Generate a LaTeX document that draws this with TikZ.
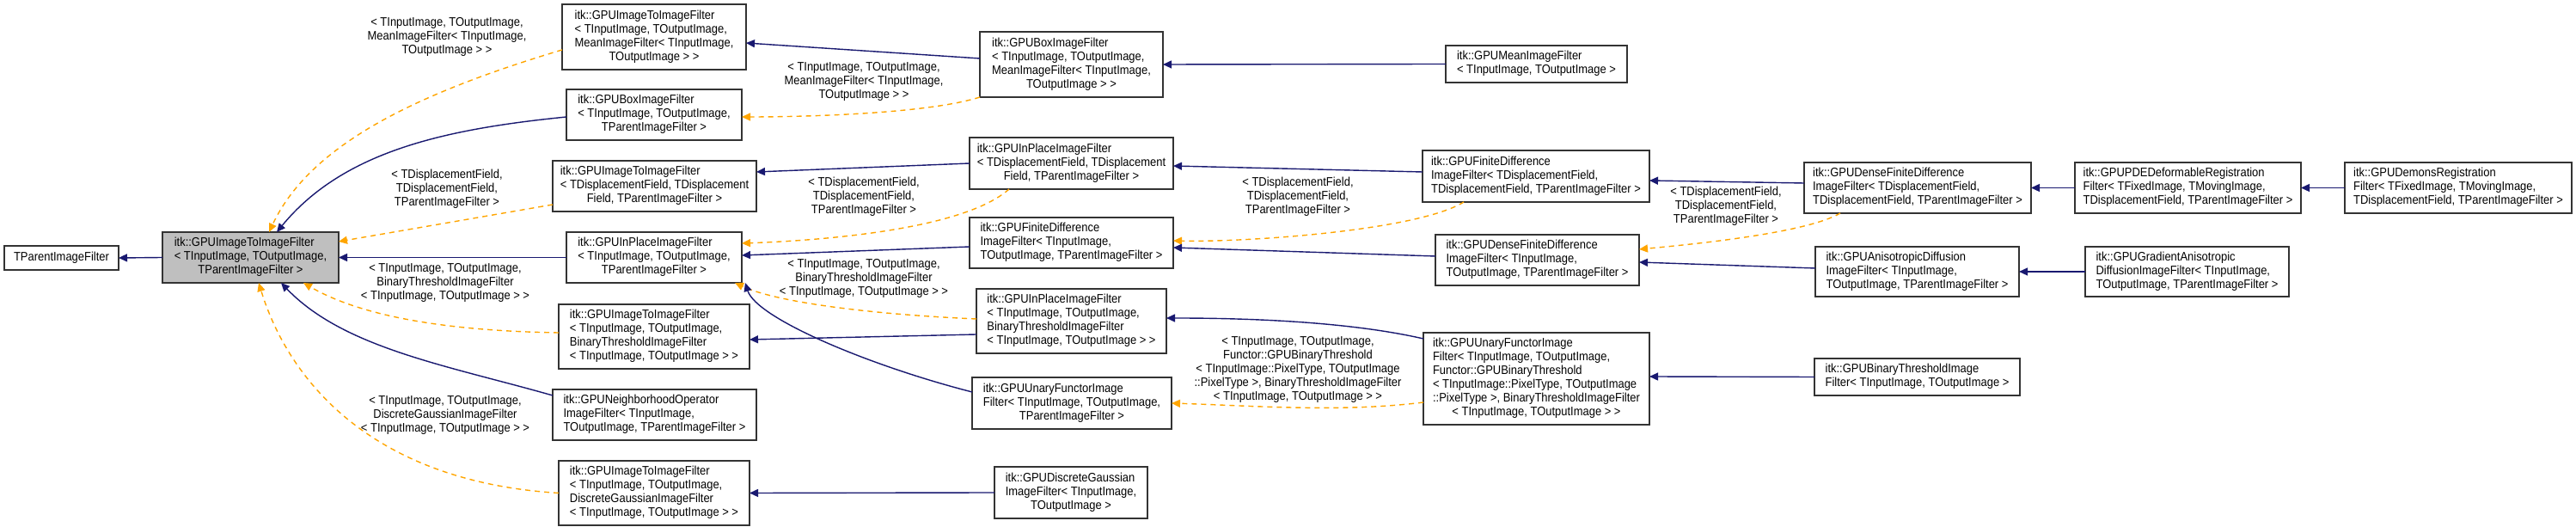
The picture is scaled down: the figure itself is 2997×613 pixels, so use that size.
\documentclass[tikz,border=0pt]{standalone}
\usepackage{fontspec}
\setmainfont[FakeStretch=0.9]{Liberation Sans}
\usetikzlibrary{arrows.meta}
\definecolor{edgeblue}{HTML}{191970}
\definecolor{edgeorange}{HTML}{FFA500}
\newcommand\dox[2]{\begin{tabular}{@{}l@{}}#1\\\multicolumn{1}{@{}c@{}}{#2}\end{tabular}}
\newcommand\bx[7][]{\pgfmathsetmacro\cx{(#3+#5)/2}\pgfmathsetmacro\cy{(#4+#6)/2}%
  \pgfmathsetmacro\ww{(#5-#3)*0.5}\pgfmathsetmacro\hh{(#6-#4)*0.5}%
  \node[box,#1,minimum width=\ww pt,minimum height=\hh pt] (#2) at (\cx,\cy) {#7};}
\begin{document}
\begin{tikzpicture}[x=0.5pt,y=-0.5pt,
  every node/.style={font=\fontsize{7.2}{8}\selectfont},
  box/.style={draw=black!80,line width=0.7pt,fill=white,inner sep=0pt,outer sep=0pt},
  inh/.style={draw=edgeblue,line width=0.7pt,-{Triangle[length=5pt,width=4.5pt]}},
  tmpl/.style={draw=edgeorange,line width=0.7pt,dash pattern=on 3pt off 2.5pt,-{Triangle[length=5pt,width=4.5pt]}},
  lbl/.style={align=center,inner sep=0pt}]
\useasboundingbox (0,0) rectangle (2997,613);
\bx{tp}{5}{286}{138}{314}{TParentImageFilter}
\bx[fill=black!25]{main}{189}{270}{394}{329}{\dox{itk::GPUImageToImageFilter\\< TInputImage, TOutputImage,}{TParentImageFilter >}}
\bx{itimean}{654}{5}{868}{81}{\dox{itk::GPUImageToImageFilter\\< TInputImage, TOutputImage,\\MeanImageFilter< TInputImage,}{TOutputImage > >}}
\bx{boxtp}{659}{104}{863}{163}{\dox{itk::GPUBoxImageFilter\\< TInputImage, TOutputImage,}{TParentImageFilter >}}
\bx{itidisp}{643}{187}{880}{246}{\dox{itk::GPUImageToImageFilter\\< TDisplacementField, TDisplacement}{Field, TParentImageFilter >}}
\bx{inplacetp}{659}{270}{863}{329}{\dox{itk::GPUInPlaceImageFilter\\< TInputImage, TOutputImage,}{TParentImageFilter >}}
\bx{itibin}{650}{354}{872}{429}{\dox{itk::GPUImageToImageFilter\\< TInputImage, TOutputImage,\\BinaryThresholdImageFilter}{< TInputImage, TOutputImage > >}}
\bx{neigh}{643}{453}{880}{512}{\dox{itk::GPUNeighborhoodOperator\\ImageFilter< TInputImage,}{TOutputImage, TParentImageFilter >}}
\bx{itigauss}{650}{536}{872}{611}{\dox{itk::GPUImageToImageFilter\\< TInputImage, TOutputImage,\\DiscreteGaussianImageFilter}{< TInputImage, TOutputImage > >}}
\bx{boxmean}{1140}{37}{1353}{113}{\dox{itk::GPUBoxImageFilter\\< TInputImage, TOutputImage,\\MeanImageFilter< TInputImage,}{TOutputImage > >}}
\bx{mean}{1682}{53}{1893}{96}{\dox{itk::GPUMeanImageFilter}{< TInputImage, TOutputImage >}}
\bx{inplacedisp}{1128}{160}{1365}{220}{\dox{itk::GPUInPlaceImageFilter\\< TDisplacementField, TDisplacement}{Field, TParentImageFilter >}}
\bx{fdtp}{1128}{253}{1365}{312}{\dox{itk::GPUFiniteDifference\\ImageFilter< TInputImage,}{TOutputImage, TParentImageFilter >}}
\bx{inplacebin}{1136}{336}{1357}{411}{\dox{itk::GPUInPlaceImageFilter\\< TInputImage, TOutputImage,\\BinaryThresholdImageFilter}{< TInputImage, TOutputImage > >}}
\bx{uftp}{1131}{439}{1363}{499}{\dox{itk::GPUUnaryFunctorImage\\Filter< TInputImage, TOutputImage,}{TParentImageFilter >}}
\bx{dg}{1157}{543}{1335}{603}{\dox{itk::GPUDiscreteGaussian\\ImageFilter< TInputImage,}{TOutputImage >}}
\bx{fddisp}{1655}{175}{1919}{235}{\dox{itk::GPUFiniteDifference\\ImageFilter< TDisplacementField,}{TDisplacementField, TParentImageFilter >}}
\bx{dfdtp}{1670}{273}{1907}{332}{\dox{itk::GPUDenseFiniteDifference\\ImageFilter< TInputImage,}{TOutputImage, TParentImageFilter >}}
\bx{ufbin}{1656}{387}{1919}{494}{\dox{itk::GPUUnaryFunctorImage\\Filter< TInputImage, TOutputImage,\\Functor::GPUBinaryThreshold\\< TInputImage::PixelType, TOutputImage\\::PixelType >, BinaryThresholdImageFilter}{< TInputImage, TOutputImage > >}}
\bx{dfddisp}{2099}{189}{2363}{248}{\dox{itk::GPUDenseFiniteDifference\\ImageFilter< TDisplacementField,}{TDisplacementField, TParentImageFilter >}}
\bx{pde}{2414}{189}{2677}{248}{\dox{itk::GPUPDEDeformableRegistration\\Filter< TFixedImage, TMovingImage,}{TDisplacementField, TParentImageFilter >}}
\bx{demons}{2728}{189}{2992}{248}{\dox{itk::GPUDemonsRegistration\\Filter< TFixedImage, TMovingImage,}{TDisplacementField, TParentImageFilter >}}
\bx{ad}{2112}{287}{2349}{345}{\dox{itk::GPUAnisotropicDiffusion\\ImageFilter< TInputImage,}{TOutputImage, TParentImageFilter >}}
\bx{gad}{2426}{287}{2663}{345}{\dox{itk::GPUGradientAnisotropic\\DiffusionImageFilter< TInputImage,}{TOutputImage, TParentImageFilter >}}
\bx{binthr}{2111}{417}{2350}{460}{\dox{itk::GPUBinaryThresholdImage}{Filter< TInputImage, TOutputImage >}}
% labels
\node[lbl] (l1) at (520,43) {< TInputImage, TOutputImage,\\MeanImageFilter< TInputImage,\\TOutputImage > >};
\node[lbl] (l2) at (520,220) {< TDisplacementField,\\TDisplacementField,\\TParentImageFilter >};
\node[lbl] (l3) at (518,329) {< TInputImage, TOutputImage,\\BinaryThresholdImageFilter\\< TInputImage, TOutputImage > >};
\node[lbl] (l4) at (518,483) {< TInputImage, TOutputImage,\\DiscreteGaussianImageFilter\\< TInputImage, TOutputImage > >};
\node[lbl] (l5) at (1005,95) {< TInputImage, TOutputImage,\\MeanImageFilter< TInputImage,\\TOutputImage > >};
\node[lbl] (l6) at (1005,229) {< TDisplacementField,\\TDisplacementField,\\TParentImageFilter >};
\node[lbl] (l7) at (1005,324) {< TInputImage, TOutputImage,\\BinaryThresholdImageFilter\\< TInputImage, TOutputImage > >};
\node[lbl] (l8) at (1510,229) {< TDisplacementField,\\TDisplacementField,\\TParentImageFilter >};
\node[lbl] (l9) at (1510,430) {< TInputImage, TOutputImage,\\Functor::GPUBinaryThreshold\\< TInputImage::PixelType, TOutputImage\\::PixelType >, BinaryThresholdImageFilter\\< TInputImage, TOutputImage > >};
\node[lbl] (l10) at (2008,240) {< TDisplacementField,\\TDisplacementField,\\TParentImageFilter >};
% edges
\draw[inh] (main.west) -- (tp.east);
\draw[tmpl] ([yshift=-7.5pt]itimean.west) .. controls (480,110) and (360,170) .. ([xshift=10.75pt]main.north);
\draw[inh] ([yshift=-1.25pt]boxtp.west) .. controls (520,150) and (400,175) .. ([xshift=15.25pt]main.north);
\draw[tmpl] ([yshift=-10.75pt]itidisp.west) -- ([yshift=9.25pt]main.east);
\draw[inh] (inplacetp.west) -- (main.east);
\draw[tmpl] ([yshift=2.25pt]itibin.west) .. controls (520,385) and (420,368) .. ([xshift=30.75pt]main.south);
\draw[inh] ([yshift=11.25pt]neigh.west) .. controls (520,425) and (400,405) .. ([xshift=17.75pt]main.south);
\draw[tmpl] (itigauss.west) .. controls (430,560) and (335,440) .. ([xshift=4.75pt]main.south);
\draw[inh] ([yshift=3.5pt]boxmean.west) -- ([yshift=-3.5pt]itimean.east);
\draw[tmpl] (boxmean.south west) .. controls (1080,132) and (940,136) .. ([yshift=-1.25pt]boxtp.east);
\draw[inh] (mean.west) -- (boxmean.east);
\draw[inh] (inplacedisp.west) -- ([yshift=8.25pt]itidisp.east);
\draw[tmpl] ([xshift=-36.25pt]inplacedisp.south) .. controls (1120,268) and (950,280) .. ([yshift=8.25pt]inplacetp.east);
\draw[inh] ([yshift=-2.25pt]fdtp.west) -- ([yshift=1.25pt]inplacetp.east);
\draw[tmpl] ([yshift=1.25pt]inplacebin.west) .. controls (1000,365) and (900,350) .. ([xshift=-4pt]inplacetp.south east);
\draw[inh] ([yshift=-7.75pt]inplacebin.west) -- ([yshift=-1.75pt]itibin.east);
\draw[inh] ([yshift=6.5pt]uftp.west) .. controls (1010,425) and (880,370) .. ([xshift=2pt]inplacetp.south east);
\draw[inh] (dg.west) -- (itigauss.east);
\draw[inh] ([yshift=2.5pt]fddisp.west) -- ([yshift=-1.5pt]inplacedisp.east);
\draw[tmpl] ([xshift=-42pt]fddisp.south) .. controls (1650,268) and (1450,282) .. ([yshift=1.25pt]fdtp.east);
\draw[inh] ([yshift=2.25pt]dfdtp.west) -- ([yshift=-2.75pt]fdtp.east);
\draw[inh] ([yshift=23.25pt]ufbin.west) .. controls (1560,372) and (1430,370) .. ([yshift=1.75pt]inplacebin.east);
\draw[tmpl] ([yshift=-13.75pt]ufbin.west) .. controls (1560,480) and (1460,472) .. (uftp.east);
\draw[inh] ([yshift=2.75pt]dfddisp.west) -- ([yshift=-2.5pt]fddisp.east);
\draw[tmpl] ([xshift=-45pt]dfddisp.south) .. controls (2100,272) and (1960,285) .. ([yshift=6.25pt]dfdtp.east);
\draw[inh] ([yshift=2pt]ad.west) -- ([yshift=-1.25pt]dfdtp.east);
\draw[inh] (pde.west) -- (dfddisp.east);
\draw[inh] (demons.west) -- (pde.east);
\draw[inh] (gad.west) -- (ad.east);
\draw[inh] (binthr.west) -- ([yshift=1.25pt]ufbin.east);
\end{tikzpicture}
\end{document}
